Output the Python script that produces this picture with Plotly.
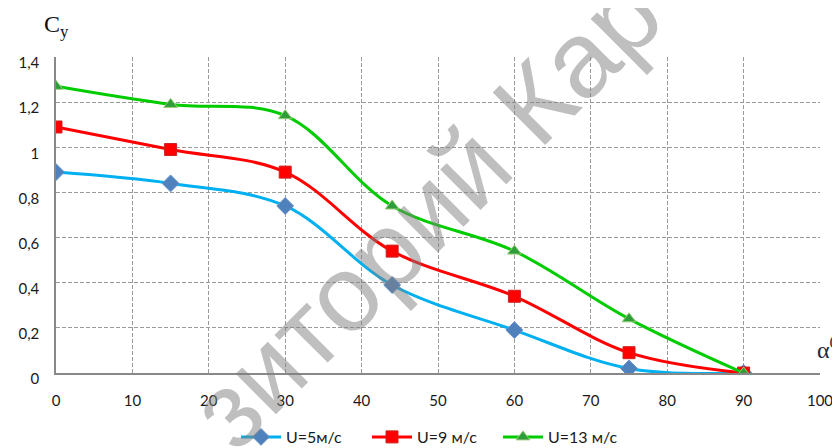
import plotly.graph_objects as go

angles = [0, 15, 30, 44, 60, 75, 90]
cy_u5 = [0.89, 0.84, 0.74, 0.39, 0.19, 0.02, 0.0]
cy_u9 = [1.09, 0.99, 0.89, 0.54, 0.34, 0.09, 0.0]
cy_u13 = [1.27, 1.19, 1.14, 0.74, 0.54, 0.24, 0.0]
series_names = ["U=5м/с", "U=9 м/с", "U=13 м/с"]

y_tickvals = [0, 0.2, 0.4, 0.6, 0.8, 1.0, 1.2, 1.4]
y_ticktext = ["0", "0,2", "0,4", "0,6", "0,8", "1", "1,2", "1,4"]
x_tickvals = [0, 10, 20, 30, 40, 50, 60, 70, 80, 90, 100]

font_main = "Lato, Open Sans, sans-serif"

# page pixel geometry of the plot area (page has an 8px body margin)
PX0, PX1, PY0, PY1 = 56, 820, 57, 373
W, H = PX1 - PX0, PY1 - PY0
FIG_W, FIG_H = 832, 440


def px(x):
    return (x - PX0) / W


def py(y):
    return (PY1 - y) / H


fig = go.Figure()
fig.add_trace(go.Scatter(
    x=angles, y=cy_u5, name=series_names[0], mode="lines+markers",
    line=dict(color="#00B0F0", width=3, shape="spline", smoothing=1),
    marker=dict(symbol="diamond", size=13, color="#4F81BD",
                line=dict(color="#6a94c8", width=1)),
))
fig.add_trace(go.Scatter(
    x=angles, y=cy_u9, name=series_names[1], mode="lines+markers",
    line=dict(color="#FF0000", width=3, shape="spline", smoothing=1),
    marker=dict(symbol="square", size=12, color="#FF0000",
                line=dict(color="#cc2020", width=1)),
))
fig.add_trace(go.Scatter(
    x=angles, y=cy_u13, name=series_names[2], mode="lines+markers",
    line=dict(color="#00CC00", width=3, shape="spline", smoothing=1),
    marker=dict(symbol="triangle-up", size=12, color="#2E9E3A",
                line=dict(color="#9BCB7B", width=1)),
))

fig.update_layout(
    width=FIG_W, height=FIG_H,
    margin=dict(l=PX0 - 8, r=FIG_W + 8 - PX1, t=PY0 - 8, b=FIG_H + 8 - PY1,
                autoexpand=False),
    paper_bgcolor="white", plot_bgcolor="white",
    font=dict(family=font_main, size=15, color="#1a1a1a"),
    showlegend=True,
    legend=dict(orientation="h", x=px(236), xanchor="left", y=py(437), yanchor="middle",
                font=dict(family=font_main, size=16, color="#1a1a1a"),
                itemwidth=40, tracegroupgap=0, entrywidth=76, entrywidthmode="pixels"),
    xaxis=dict(range=[0, 100], tickvals=x_tickvals, showgrid=True,
               gridcolor="#9a9a9a", griddash="4px,2px", gridwidth=1,
               showline=True, linecolor="#888888", linewidth=1.5,
               ticks="", zeroline=False, ticklabelstandoff=13, automargin=False,
               tickfont=dict(size=15)),
    yaxis=dict(range=[0, 1.4], tickvals=y_tickvals, ticktext=y_ticktext, showgrid=True,
               gridcolor="#9a9a9a", griddash="4px,2px", gridwidth=1,
               showline=True, linecolor="#888888", linewidth=1.5,
               ticks="", zeroline=False, ticklabelstandoff=12, ticklabelshift=6,
               automargin=False, tickfont=dict(size=15)),
)

# axis titles
fig.add_annotation(x=px(42), y=py(26), xref="paper", yref="paper", text="C<sub>y</sub>",
                   showarrow=False, xanchor="left", yanchor="middle",
                   font=dict(family="Liberation Serif", size=24, color="#111"))

fig.add_annotation(x=px(815), y=py(348), xref="paper", yref="paper",
                   text="α<sup>0</sup>", showarrow=False, xanchor="left", yanchor="middle",
                   font=dict(family="Liberation Serif", size=24, color="#1f2a44"))

# watermark
fig.add_annotation(x=px(426), y=py(212), xref="paper", yref="paper",
                   text="зиторий Кар", showarrow=False, textangle=-45,
                   font=dict(family="Liberation Sans", size=108, color="rgba(128,128,128,0.5)"))

fig.write_html("out.html")
